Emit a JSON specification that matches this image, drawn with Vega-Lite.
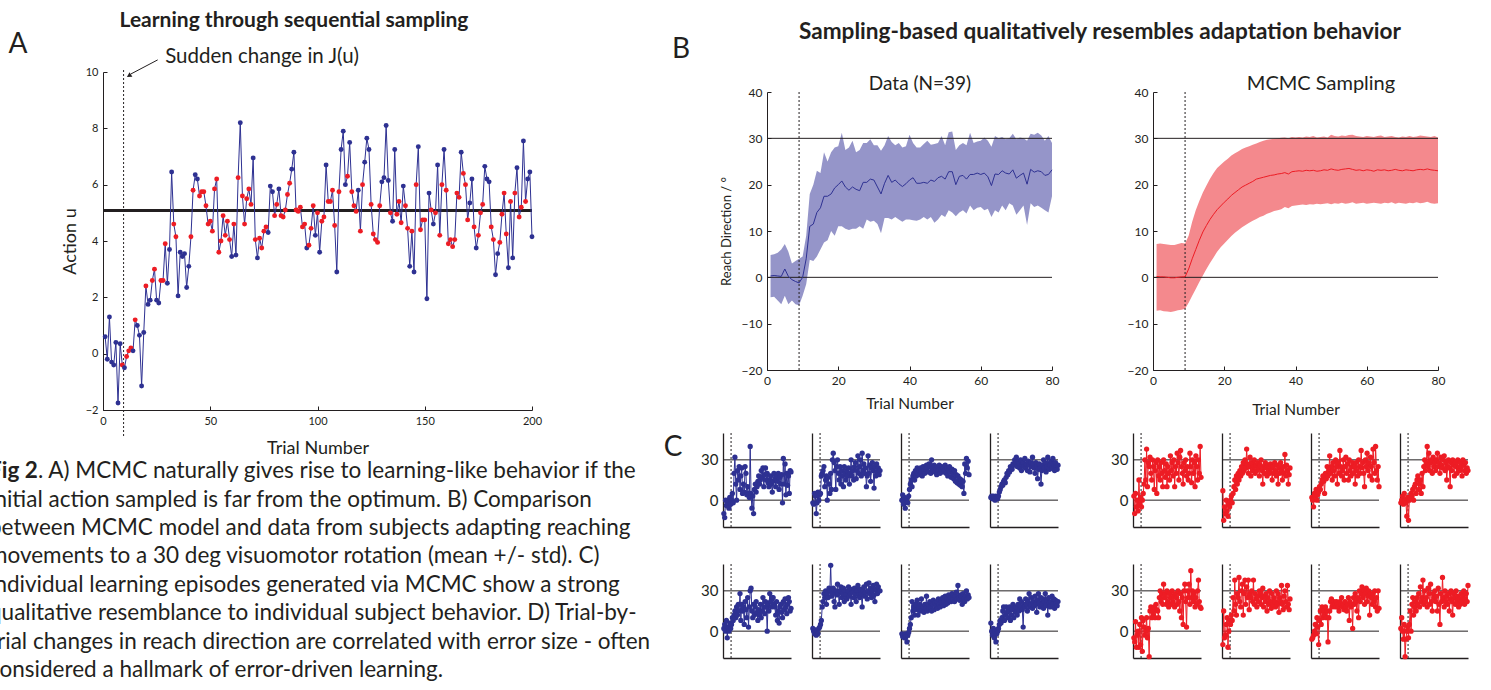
{
"$schema": "https://vega.github.io/schema/vega-lite/v6.json",
"background": "white",
"padding": 0,
"config": {
  "font": "Lato",
  "view": {"stroke": null},
  "axis": {"grid": false, "domainColor": "#231f20", "tickColor": "#231f20", "labelColor": "#231f20", "titleColor": "#231f20", "titleFontWeight": "normal", "domainWidth": 1, "tickWidth": 1, "labelFlush": false, "labelOverlap": false}
},
"datasets": {
"adata": [
{"t":1,"u":0.6,"c":"b"},{"t":2,"u":-0.2,"c":"b"},{"t":3,"u":1.3,"c":"b"},{"t":4,"u":-0.3,"c":"b"},{"t":5,"u":-0.4,"c":"b"},{"t":6,"u":0.4,"c":"b"},{"t":7,"u":-1.75,"c":"b"},{"t":8,"u":0.35,"c":"b"},{"t":9,"u":-0.4,"c":"r"},{"t":10,"u":-0.5,"c":"b"},
{"t":11,"u":-0.1,"c":"r"},{"t":12,"u":0.1,"c":"r"},{"t":13,"u":0.2,"c":"r"},{"t":14,"u":0.1,"c":"b"},{"t":15,"u":1.2,"c":"r"},{"t":16,"u":1.0,"c":"b"},{"t":17,"u":0.65,"c":"b"},{"t":18,"u":-1.15,"c":"b"},{"t":19,"u":0.75,"c":"b"},{"t":20,"u":2.4,"c":"r"},
{"t":21,"u":1.75,"c":"b"},{"t":22,"u":1.9,"c":"b"},{"t":23,"u":2.6,"c":"r"},{"t":24,"u":3.0,"c":"r"},{"t":25,"u":1.9,"c":"b"},{"t":26,"u":1.8,"c":"b"},{"t":27,"u":2.6,"c":"r"},{"t":28,"u":2.6,"c":"r"},{"t":29,"u":3.9,"c":"r"},{"t":30,"u":2.5,"c":"b"},
{"t":31,"u":3.7,"c":"b"},{"t":32,"u":6.45,"c":"b"},{"t":33,"u":4.6,"c":"r"},{"t":34,"u":4.15,"c":"r"},{"t":35,"u":2.05,"c":"b"},{"t":36,"u":3.6,"c":"b"},{"t":37,"u":3.45,"c":"b"},{"t":38,"u":3.55,"c":"b"},{"t":39,"u":2.35,"c":"b"},{"t":40,"u":3.1,"c":"b"},
{"t":41,"u":4.15,"c":"r"},{"t":42,"u":5.8,"c":"r"},{"t":43,"u":6.35,"c":"b"},{"t":44,"u":6.2,"c":"b"},{"t":45,"u":5.6,"c":"r"},{"t":46,"u":5.75,"c":"r"},{"t":47,"u":5.75,"c":"r"},{"t":48,"u":5.25,"c":"r"},{"t":49,"u":4.6,"c":"r"},{"t":50,"u":4.7,"c":"r"},
{"t":51,"u":4.35,"c":"r"},{"t":52,"u":5.85,"c":"r"},{"t":53,"u":6.2,"c":"r"},{"t":54,"u":3.6,"c":"r"},{"t":55,"u":4.0,"c":"r"},{"t":56,"u":4.9,"c":"r"},{"t":57,"u":4.2,"c":"r"},{"t":58,"u":4.7,"c":"r"},{"t":59,"u":4.05,"c":"r"},{"t":60,"u":3.45,"c":"b"},
{"t":61,"u":4.6,"c":"r"},{"t":62,"u":3.5,"c":"b"},{"t":63,"u":6.25,"c":"r"},{"t":64,"u":8.2,"c":"b"},{"t":65,"u":5.6,"c":"r"},{"t":66,"u":4.6,"c":"r"},{"t":67,"u":5.5,"c":"r"},{"t":68,"u":5.85,"c":"r"},{"t":69,"u":5.3,"c":"r"},{"t":70,"u":6.95,"c":"b"},
{"t":71,"u":4.05,"c":"r"},{"t":72,"u":3.4,"c":"b"},{"t":73,"u":4.1,"c":"r"},{"t":74,"u":3.75,"c":"r"},{"t":75,"u":4.35,"c":"r"},{"t":76,"u":4.5,"c":"r"},{"t":77,"u":4.3,"c":"b"},{"t":78,"u":5.95,"c":"b"},{"t":79,"u":5.75,"c":"b"},{"t":80,"u":4.9,"c":"r"},
{"t":81,"u":5.3,"c":"r"},{"t":82,"u":5.85,"c":"b"},{"t":83,"u":4.9,"c":"r"},{"t":84,"u":4.85,"c":"r"},{"t":85,"u":5.1,"c":"r"},{"t":86,"u":5.65,"c":"r"},{"t":87,"u":6.05,"c":"r"},{"t":88,"u":6.55,"c":"b"},{"t":89,"u":7.15,"c":"b"},{"t":90,"u":5.1,"c":"r"},
{"t":91,"u":5.05,"c":"r"},{"t":92,"u":5.2,"c":"r"},{"t":93,"u":4.5,"c":"r"},{"t":94,"u":4.6,"c":"r"},{"t":95,"u":3.75,"c":"b"},{"t":96,"u":3.85,"c":"r"},{"t":97,"u":4.45,"c":"r"},{"t":98,"u":5.25,"c":"r"},{"t":99,"u":4.2,"c":"b"},{"t":100,"u":5.0,"c":"r"},
{"t":101,"u":3.6,"c":"b"},{"t":102,"u":4.7,"c":"r"},{"t":103,"u":4.85,"c":"r"},{"t":104,"u":6.7,"c":"b"},{"t":105,"u":5.4,"c":"r"},{"t":106,"u":5.4,"c":"r"},{"t":107,"u":5.8,"c":"r"},{"t":108,"u":4.55,"c":"r"},{"t":109,"u":2.9,"c":"b"},{"t":110,"u":5.75,"c":"r"},
{"t":111,"u":7.25,"c":"b"},{"t":112,"u":7.9,"c":"b"},{"t":113,"u":6.0,"c":"b"},{"t":114,"u":6.3,"c":"r"},{"t":115,"u":7.5,"c":"b"},{"t":116,"u":5.75,"c":"r"},{"t":117,"u":5.25,"c":"r"},{"t":118,"u":5.05,"c":"r"},{"t":119,"u":5.8,"c":"b"},{"t":120,"u":4.35,"c":"r"},
{"t":121,"u":6.0,"c":"r"},{"t":122,"u":6.8,"c":"b"},{"t":123,"u":7.65,"c":"b"},{"t":124,"u":7.25,"c":"b"},{"t":125,"u":5.3,"c":"r"},{"t":126,"u":4.25,"c":"r"},{"t":127,"u":4.05,"c":"r"},{"t":128,"u":3.95,"c":"r"},{"t":129,"u":5.25,"c":"r"},{"t":130,"u":6.1,"c":"b"},
{"t":131,"u":6.25,"c":"b"},{"t":132,"u":8.1,"c":"b"},{"t":133,"u":6.15,"c":"b"},{"t":134,"u":5.0,"c":"r"},{"t":135,"u":4.7,"c":"b"},{"t":136,"u":7.25,"c":"b"},{"t":137,"u":4.95,"c":"r"},{"t":138,"u":5.4,"c":"r"},{"t":139,"u":4.65,"c":"r"},{"t":140,"u":5.95,"c":"b"},
{"t":141,"u":5.25,"c":"r"},{"t":142,"u":4.45,"c":"r"},{"t":143,"u":3.1,"c":"b"},{"t":144,"u":4.35,"c":"r"},{"t":145,"u":2.9,"c":"b"},{"t":146,"u":6.0,"c":"r"},{"t":147,"u":7.35,"c":"b"},{"t":148,"u":4.4,"c":"r"},{"t":149,"u":4.75,"c":"r"},{"t":150,"u":4.75,"c":"r"},
{"t":151,"u":1.95,"c":"b"},{"t":152,"u":5.7,"c":"b"},{"t":153,"u":5.1,"c":"r"},{"t":154,"u":4.6,"c":"b"},{"t":155,"u":5.0,"c":"r"},{"t":156,"u":6.7,"c":"b"},{"t":157,"u":4.2,"c":"r"},{"t":158,"u":6.0,"c":"r"},{"t":159,"u":7.25,"c":"b"},{"t":160,"u":5.8,"c":"r"},
{"t":161,"u":3.9,"c":"r"},{"t":162,"u":4.05,"c":"r"},{"t":163,"u":3.8,"c":"r"},{"t":164,"u":4.05,"c":"r"},{"t":165,"u":5.7,"c":"r"},{"t":166,"u":5.55,"c":"r"},{"t":167,"u":7.15,"c":"b"},{"t":168,"u":6.4,"c":"r"},{"t":169,"u":6.0,"c":"r"},{"t":170,"u":4.75,"c":"r"},
{"t":171,"u":5.35,"c":"b"},{"t":172,"u":6.2,"c":"b"},{"t":173,"u":4.5,"c":"r"},{"t":174,"u":3.75,"c":"b"},{"t":175,"u":4.2,"c":"r"},{"t":176,"u":5.0,"c":"r"},{"t":177,"u":5.3,"c":"r"},{"t":178,"u":6.65,"c":"b"},{"t":179,"u":6.2,"c":"b"},{"t":180,"u":6.1,"c":"b"},
{"t":181,"u":4.5,"c":"r"},{"t":182,"u":4.05,"c":"r"},{"t":183,"u":2.8,"c":"b"},{"t":184,"u":3.55,"c":"b"},{"t":185,"u":3.95,"c":"r"},{"t":186,"u":4.95,"c":"r"},{"t":187,"u":5.7,"c":"r"},{"t":188,"u":4.25,"c":"r"},{"t":189,"u":3.05,"c":"b"},{"t":190,"u":5.4,"c":"r"},
{"t":191,"u":3.4,"c":"b"},{"t":192,"u":5.7,"c":"r"},{"t":193,"u":6.6,"c":"b"},{"t":194,"u":4.85,"c":"r"},{"t":195,"u":5.2,"c":"r"},{"t":196,"u":7.55,"c":"b"},{"t":197,"u":5.4,"c":"r"},{"t":198,"u":6.2,"c":"b"},{"t":199,"u":6.45,"c":"b"},{"t":200,"u":4.15,"c":"b"}
],
"bdata": [
{"t":1,"dm":0.3,"dlo":-4.3,"dhi":4.8,"mm":0.2,"mlo":-7.2,"mhi":7.2},
{"t":2,"dm":0.4,"dlo":-4.2,"dhi":5.0,"mm":0.1,"mlo":-7.1,"mhi":7.3},
{"t":3,"dm":0.3,"dlo":-5.0,"dhi":5.3,"mm":0.1,"mlo":-7.3,"mhi":7.2},
{"t":4,"dm":0.2,"dlo":-5.8,"dhi":6.0,"mm":0.0,"mlo":-7.4,"mhi":7.1},
{"t":5,"dm":1.8,"dlo":-4.0,"dhi":7.2,"mm":-0.1,"mlo":-7.5,"mhi":7.0},
{"t":6,"dm":0.2,"dlo":-5.8,"dhi":5.5,"mm":-0.1,"mlo":-7.3,"mhi":7.0},
{"t":7,"dm":-0.5,"dlo":-5.0,"dhi":3.0,"mm":0.0,"mlo":-7.1,"mhi":7.2},
{"t":8,"dm":-0.9,"dlo":-5.8,"dhi":3.5,"mm":0.1,"mlo":-7.0,"mhi":7.4},
{"t":9,"dm":-1.2,"dlo":-6.0,"dhi":4.0,"mm":0.1,"mlo":-6.8,"mhi":7.3},
{"t":10,"dm":0.0,"dlo":-4.0,"dhi":4.5,"mm":1.8,"mlo":-5.5,"mhi":9.0},
{"t":11,"dm":4.0,"dlo":-1.5,"dhi":9.0,"mm":4.0,"mlo":-4.0,"mhi":12.0},
{"t":12,"dm":11.0,"dlo":3.8,"dhi":18.0,"mm":6.0,"mlo":-2.5,"mhi":14.5},
{"t":13,"dm":11.5,"dlo":3.5,"dhi":20.0,"mm":8.0,"mlo":-1.0,"mhi":16.5},
{"t":14,"dm":14.0,"dlo":4.5,"dhi":23.0,"mm":9.8,"mlo":0.4,"mhi":18.3},
{"t":15,"dm":15.0,"dlo":6.0,"dhi":22.5,"mm":11.2,"mlo":1.8,"mhi":19.8},
{"t":16,"dm":17.5,"dlo":7.5,"dhi":27.0,"mm":12.5,"mlo":3.1,"mhi":21.3},
{"t":17,"dm":17.5,"dlo":8.0,"dhi":25.0,"mm":13.6,"mlo":4.3,"mhi":22.5},
{"t":18,"dm":18.0,"dlo":10.0,"dhi":27.0,"mm":14.6,"mlo":5.5,"mhi":23.6},
{"t":19,"dm":19.3,"dlo":9.0,"dhi":28.0,"mm":15.4,"mlo":6.5,"mhi":24.3},
{"t":20,"dm":20.0,"dlo":11.0,"dhi":28.3,"mm":16.2,"mlo":7.3,"mhi":25.0},
{"t":21,"dm":20.8,"dlo":11.0,"dhi":31.2,"mm":16.9,"mlo":8.1,"mhi":25.6},
{"t":22,"dm":19.5,"dlo":10.5,"dhi":27.5,"mm":17.7,"mlo":8.9,"mhi":26.3},
{"t":23,"dm":18.8,"dlo":10.2,"dhi":28.0,"mm":18.3,"mlo":9.6,"mhi":26.8},
{"t":24,"dm":19.5,"dlo":10.5,"dhi":29.5,"mm":18.9,"mlo":10.2,"mhi":27.2},
{"t":25,"dm":19.0,"dlo":10.5,"dhi":27.0,"mm":19.5,"mlo":10.8,"mhi":27.7},
{"t":26,"dm":18.7,"dlo":11.0,"dhi":27.5,"mm":19.9,"mlo":11.3,"mhi":28.0},
{"t":27,"dm":20.5,"dlo":10.5,"dhi":29.0,"mm":20.3,"mlo":11.8,"mhi":28.3},
{"t":28,"dm":20.5,"dlo":12.5,"dhi":29.0,"mm":20.7,"mlo":12.2,"mhi":28.6},
{"t":29,"dm":21.2,"dlo":12.0,"dhi":29.8,"mm":21.2,"mlo":12.6,"mhi":28.9},
{"t":30,"dm":21.0,"dlo":12.2,"dhi":28.5,"mm":21.4,"mlo":13.0,"mhi":29.2},
{"t":31,"dm":19.5,"dlo":11.5,"dhi":28.5,"mm":21.6,"mlo":13.3,"mhi":29.5},
{"t":32,"dm":18.0,"dlo":9.5,"dhi":27.3,"mm":21.8,"mlo":13.7,"mhi":29.7},
{"t":33,"dm":20.3,"dlo":12.8,"dhi":28.5,"mm":22.0,"mlo":14.0,"mhi":29.8},
{"t":34,"dm":22.0,"dlo":12.8,"dhi":30.5,"mm":22.1,"mlo":14.3,"mhi":29.9},
{"t":35,"dm":20.5,"dlo":12.5,"dhi":29.2,"mm":22.3,"mlo":14.5,"mhi":30.0},
{"t":36,"dm":21.0,"dlo":13.0,"dhi":28.5,"mm":22.4,"mlo":14.7,"mhi":30.1},
{"t":37,"dm":20.2,"dlo":12.5,"dhi":29.0,"mm":22.6,"mlo":15.2,"mhi":30.2},
{"t":38,"dm":19.6,"dlo":12.0,"dhi":28.0,"mm":22.3,"mlo":14.9,"mhi":30.0},
{"t":39,"dm":20.2,"dlo":12.5,"dhi":28.3,"mm":22.8,"mlo":15.4,"mhi":30.3},
{"t":40,"dm":21.0,"dlo":12.5,"dhi":30.8,"mm":22.9,"mlo":15.5,"mhi":30.2},
{"t":41,"dm":21.5,"dlo":12.3,"dhi":29.0,"mm":23.0,"mlo":15.6,"mhi":30.3},
{"t":42,"dm":20.3,"dlo":12.2,"dhi":28.0,"mm":22.9,"mlo":15.7,"mhi":30.2},
{"t":43,"dm":20.3,"dlo":12.5,"dhi":28.0,"mm":23.1,"mlo":15.6,"mhi":30.4},
{"t":44,"dm":20.5,"dlo":13.0,"dhi":28.8,"mm":23.0,"mlo":15.8,"mhi":30.3},
{"t":45,"dm":20.3,"dlo":12.5,"dhi":29.5,"mm":23.1,"mlo":15.7,"mhi":30.5},
{"t":46,"dm":21.0,"dlo":13.0,"dhi":28.6,"mm":22.9,"mlo":15.9,"mhi":30.2},
{"t":47,"dm":20.7,"dlo":11.8,"dhi":28.8,"mm":23.0,"mlo":15.8,"mhi":30.3},
{"t":48,"dm":21.5,"dlo":12.5,"dhi":29.0,"mm":23.2,"mlo":15.9,"mhi":30.4},
{"t":49,"dm":21.8,"dlo":13.5,"dhi":30.5,"mm":23.1,"mlo":16.0,"mhi":30.2},
{"t":50,"dm":21.2,"dlo":13.0,"dhi":28.5,"mm":23.4,"mlo":15.8,"mhi":30.8},
{"t":51,"dm":22.8,"dlo":14.5,"dhi":31.3,"mm":23.2,"mlo":16.0,"mhi":30.5},
{"t":52,"dm":22.8,"dlo":14.0,"dhi":31.5,"mm":23.1,"mlo":15.9,"mhi":30.4},
{"t":53,"dm":20.0,"dlo":13.2,"dhi":27.5,"mm":23.3,"mlo":16.1,"mhi":30.6},
{"t":54,"dm":21.8,"dlo":14.0,"dhi":28.5,"mm":23.4,"mlo":15.9,"mhi":30.5},
{"t":55,"dm":22.0,"dlo":14.5,"dhi":29.0,"mm":23.5,"mlo":16.0,"mhi":30.7},
{"t":56,"dm":21.2,"dlo":13.8,"dhi":28.5,"mm":23.3,"mlo":16.2,"mhi":30.8},
{"t":57,"dm":22.2,"dlo":15.5,"dhi":31.2,"mm":23.1,"mlo":15.9,"mhi":30.5},
{"t":58,"dm":22.2,"dlo":14.5,"dhi":29.0,"mm":23.2,"mlo":16.0,"mhi":30.4},
{"t":59,"dm":22.5,"dlo":15.0,"dhi":29.3,"mm":23.0,"mlo":16.1,"mhi":30.3},
{"t":60,"dm":22.2,"dlo":15.2,"dhi":29.5,"mm":23.2,"mlo":15.9,"mhi":30.5},
{"t":61,"dm":22.5,"dlo":14.5,"dhi":30.2,"mm":23.1,"mlo":16.0,"mhi":30.4},
{"t":62,"dm":21.7,"dlo":14.8,"dhi":29.5,"mm":22.9,"mlo":16.1,"mhi":30.3},
{"t":63,"dm":19.8,"dlo":13.0,"dhi":28.2,"mm":23.2,"mlo":16.0,"mhi":30.5},
{"t":64,"dm":22.3,"dlo":14.5,"dhi":30.5,"mm":23.1,"mlo":15.9,"mhi":30.6},
{"t":65,"dm":22.2,"dlo":14.0,"dhi":30.0,"mm":23.2,"mlo":16.1,"mhi":30.3},
{"t":66,"dm":23.0,"dlo":15.5,"dhi":30.3,"mm":23.0,"mlo":16.0,"mhi":30.4},
{"t":67,"dm":22.5,"dlo":14.5,"dhi":29.8,"mm":23.1,"mlo":16.2,"mhi":30.5},
{"t":68,"dm":22.3,"dlo":16.0,"dhi":30.0,"mm":23.3,"mlo":15.9,"mhi":30.3},
{"t":69,"dm":23.2,"dlo":15.5,"dhi":31.0,"mm":23.1,"mlo":16.1,"mhi":30.2},
{"t":70,"dm":21.4,"dlo":13.5,"dhi":29.8,"mm":23.0,"mlo":16.0,"mhi":30.4},
{"t":71,"dm":22.0,"dlo":14.5,"dhi":30.2,"mm":23.2,"mlo":15.9,"mhi":30.3},
{"t":72,"dm":22.5,"dlo":15.5,"dhi":30.0,"mm":23.1,"mlo":16.1,"mhi":30.5},
{"t":73,"dm":20.1,"dlo":11.3,"dhi":29.5,"mm":23.0,"mlo":16.0,"mhi":30.3},
{"t":74,"dm":23.3,"dlo":16.0,"dhi":31.0,"mm":23.2,"mlo":16.2,"mhi":30.4},
{"t":75,"dm":22.7,"dlo":15.2,"dhi":30.8,"mm":23.3,"mlo":16.0,"mhi":30.6},
{"t":76,"dm":23.0,"dlo":15.5,"dhi":31.2,"mm":23.2,"mlo":16.1,"mhi":30.5},
{"t":77,"dm":22.8,"dlo":15.0,"dhi":30.6,"mm":23.4,"mlo":16.3,"mhi":30.4},
{"t":78,"dm":22.0,"dlo":14.5,"dhi":29.5,"mm":23.2,"mlo":16.0,"mhi":30.3},
{"t":79,"dm":22.2,"dlo":14.0,"dhi":30.5,"mm":23.1,"mlo":15.9,"mhi":30.5},
{"t":80,"dm":23.2,"dlo":17.5,"dhi":29.0,"mm":23.0,"mlo":16.0,"mhi":30.2}
],
"cdata": [
{"t":1,"b1":-10,"b2":-2,"b3":0,"b4":2,"b5":2,"b6":2,"b7":-2,"b8":6,"r1":3,"r2":7,"r3":2,"r4":-2,"r5":-5,"r6":-10,"r7":-6,"r8":2},
{"t":2,"b1":-13,"b2":-3,"b3":4,"b4":3,"b5":5,"b6":0,"b7":-4,"b8":0,"r1":-10,"r2":-15,"r3":0,"r4":0,"r5":-8,"r6":15,"r7":-5,"r8":10},
{"t":3,"b1":0,"b2":5,"b3":-3,"b4":1,"b5":0,"b6":-2,"b7":-3,"b8":-3,"r1":5,"r2":-5,"r3":-5,"r4":3,"r5":7,"r6":-5,"r7":-3,"r8":0},
{"t":4,"b1":-4,"b2":3,"b3":2,"b4":3,"b5":8,"b6":1,"b7":-5,"b8":2,"r1":-5,"r2":-10,"r3":5,"r4":-3,"r5":-12,"r6":-3,"r7":0,"r8":-6},
{"t":5,"b1":-2,"b2":-10,"b3":-6,"b4":2,"b5":-5,"b6":-3,"b7":-2,"b8":-5,"r1":0,"r2":0,"r3":3,"r4":5,"r5":-3,"r6":5,"r7":5,"r8":5},
{"t":6,"b1":0,"b2":-2,"b3":0,"b4":0,"b5":3,"b6":0,"b7":-4,"b8":0,"r1":-8,"r2":-8,"r3":8,"r4":0,"r5":0,"r6":10,"r7":-2,"r8":-19},
{"t":7,"b1":-6,"b2":6,"b3":1,"b4":3,"b5":0,"b6":-2,"b7":-8,"b8":-8,"r1":15,"r2":-12,"r3":0,"r4":-2,"r5":-12,"r6":-12,"r7":10,"r8":-6},
{"t":8,"b1":2,"b2":0,"b3":-2,"b4":2,"b5":6,"b6":2,"b7":-3,"b8":-2,"r1":-3,"r2":-3,"r3":4,"r4":-12,"r5":5,"r6":0,"r7":3,"r8":0},
{"t":9,"b1":-3,"b2":4,"b3":3,"b4":1,"b5":2,"b6":3,"b7":-1,"b8":0,"r1":2,"r2":-5,"r3":6,"r4":2,"r5":-10,"r6":8,"r7":-10,"r8":3},
{"t":10,"b1":0,"b2":5,"b3":8,"b4":3,"b5":5,"b6":5,"b7":2,"b8":2,"r1":-5,"r2":0,"r3":10,"r4":-15,"r5":10,"r6":5,"r7":8,"r8":-5},
{"t":11,"b1":5,"b2":18,"b3":12,"b4":6,"b5":10,"b6":8,"b7":5,"b8":5,"r1":0,"r2":3,"r3":8,"r4":0,"r5":-15,"r6":12,"r7":15,"r8":5},
{"t":12,"b1":-2,"b2":20,"b3":15,"b4":8,"b5":8,"b6":18,"b7":10,"b8":8,"r1":5,"r2":-2,"r3":12,"r4":2,"r5":8,"r6":8,"r7":5,"r8":15},
{"t":13,"b1":20,"b2":22,"b3":10,"b4":10,"b5":12,"b6":22,"b7":22,"b8":6,"r1":12,"r2":5,"r3":15,"r4":5,"r5":3,"r6":25,"r7":18,"r8":0},
{"t":14,"b1":32,"b2":25,"b3":18,"b4":12,"b5":15,"b6":28,"b7":15,"b8":10,"r1":30,"r2":10,"r3":18,"r4":3,"r5":-3,"r6":15,"r7":10,"r8":20},
{"t":15,"b1":12,"b2":10,"b3":20,"b4":11,"b5":10,"b6":25,"b7":18,"b8":15,"r1":15,"r2":15,"r3":14,"r4":8,"r5":0,"r6":38,"r7":15,"r8":25},
{"t":16,"b1":0,"b2":15,"b3":15,"b4":14,"b5":18,"b6":30,"b7":12,"b8":18,"r1":38,"r2":8,"r3":5,"r4":0,"r5":10,"r6":20,"r7":12,"r8":12},
{"t":17,"b1":22,"b2":18,"b3":22,"b4":15,"b5":12,"b6":20,"b7":20,"b8":8,"r1":10,"r2":18,"r3":20,"r4":10,"r5":-5,"r6":12,"r7":18,"r8":18},
{"t":18,"b1":15,"b2":0,"b3":18,"b4":13,"b5":20,"b6":28,"b7":16,"b8":12,"r1":28,"r2":12,"r3":16,"r4":12,"r5":2,"r6":28,"r7":10,"r8":22},
{"t":19,"b1":25,"b2":17,"b3":24,"b4":17,"b5":15,"b6":25,"b7":23,"b8":18,"r1":25,"r2":20,"r3":25,"r4":5,"r5":-19,"r6":25,"r7":15,"r8":15},
{"t":20,"b1":8,"b2":12,"b3":20,"b4":20,"b5":28,"b6":32,"b7":12,"b8":14,"r1":32,"r2":15,"r3":18,"r4":15,"r5":15,"r6":40,"r7":-8,"r8":25},
{"t":21,"b1":18,"b2":5,"b3":22,"b4":19,"b5":8,"b6":30,"b7":18,"b8":10,"r1":20,"r2":22,"r3":22,"r4":18,"r5":18,"r6":22,"r7":10,"r8":20},
{"t":22,"b1":24,"b2":20,"b3":19,"b4":22,"b5":20,"b6":49,"b7":20,"b8":15,"r1":15,"r2":18,"r3":33,"r4":8,"r5":10,"r6":18,"r7":15,"r8":28},
{"t":23,"b1":5,"b2":8,"b3":24,"b4":21,"b5":15,"b6":26,"b7":15,"b8":18,"r1":30,"r2":25,"r3":20,"r4":12,"r5":15,"r6":30,"r7":22,"r8":18},
{"t":24,"b1":12,"b2":30,"b3":21,"b4":25,"b5":18,"b6":28,"b7":24,"b8":8,"r1":25,"r2":20,"r3":25,"r4":15,"r5":12,"r6":35,"r7":24,"r8":33},
{"t":25,"b1":6,"b2":35,"b3":18,"b4":24,"b5":5,"b6":32,"b7":16,"b8":12,"r1":8,"r2":28,"r3":15,"r4":5,"r5":18,"r6":12,"r7":18,"r8":22},
{"t":26,"b1":25,"b2":28,"b3":25,"b4":23,"b5":22,"b6":22,"b7":18,"b8":16,"r1":22,"r2":22,"r3":28,"r4":20,"r5":10,"r6":28,"r7":20,"r8":25},
{"t":27,"b1":20,"b2":22,"b3":22,"b4":27,"b5":16,"b6":18,"b7":14,"b8":20,"r1":28,"r2":30,"r3":22,"r4":10,"r5":20,"r6":38,"r7":22,"r8":38},
{"t":28,"b1":4,"b2":8,"b3":20,"b4":26,"b5":10,"b6":30,"b7":20,"b8":10,"r1":5,"r2":24,"r3":18,"r4":25,"r5":16,"r6":20,"r7":20,"r8":20},
{"t":29,"b1":10,"b2":25,"b3":23,"b4":30,"b5":25,"b6":27,"b7":17,"b8":17,"r1":30,"r2":38,"r3":30,"r4":30,"r5":15,"r6":33,"r7":18,"r8":30},
{"t":30,"b1":5,"b2":30,"b3":26,"b4":28,"b5":3,"b6":35,"b7":26,"b8":14,"r1":18,"r2":27,"r3":25,"r4":22,"r5":10,"r6":25,"r7":22,"r8":22},
{"t":31,"b1":2,"b2":20,"b3":24,"b4":32,"b5":18,"b6":28,"b7":15,"b8":18,"r1":25,"r2":20,"r3":12,"r4":28,"r5":25,"r6":38,"r7":20,"r8":25},
{"t":32,"b1":40,"b2":15,"b3":21,"b4":25,"b5":30,"b6":20,"b7":20,"b8":12,"r1":15,"r2":25,"r3":28,"r4":40,"r5":30,"r6":16,"r7":18,"r8":18},
{"t":33,"b1":5,"b2":25,"b3":27,"b4":29,"b5":32,"b6":30,"b7":17,"b8":20,"r1":28,"r2":32,"r3":20,"r4":25,"r5":22,"r6":28,"r7":15,"r8":32},
{"t":34,"b1":-6,"b2":12,"b3":25,"b4":27,"b5":15,"b6":33,"b7":22,"b8":15,"r1":20,"r2":18,"r3":37,"r4":35,"r5":28,"r6":25,"r7":22,"r8":28},
{"t":35,"b1":3,"b2":22,"b3":20,"b4":24,"b5":10,"b6":25,"b7":18,"b8":24,"r1":10,"r2":28,"r3":25,"r4":22,"r5":20,"r6":30,"r7":20,"r8":20},
{"t":36,"b1":-10,"b2":18,"b3":30,"b4":30,"b5":20,"b6":28,"b7":15,"b8":18,"r1":30,"r2":22,"r3":18,"r4":28,"r5":35,"r6":22,"r7":25,"r8":35},
{"t":37,"b1":8,"b2":10,"b3":23,"b4":22,"b5":12,"b6":32,"b7":20,"b8":22,"r1":22,"r2":25,"r3":22,"r4":30,"r5":25,"r6":38,"r7":18,"r8":22},
{"t":38,"b1":12,"b2":25,"b3":22,"b4":26,"b5":18,"b6":22,"b7":23,"b8":16,"r1":17,"r2":30,"r3":30,"r4":20,"r5":28,"r6":20,"r7":20,"r8":15},
{"t":39,"b1":6,"b2":20,"b3":26,"b4":28,"b5":22,"b6":30,"b7":16,"b8":3,"r1":27,"r2":20,"r3":15,"r4":32,"r5":20,"r6":28,"r7":16,"r8":28},
{"t":40,"b1":10,"b2":15,"b3":21,"b4":25,"b5":14,"b6":27,"b7":21,"b8":20,"r1":10,"r2":26,"r3":25,"r4":25,"r5":30,"r6":24,"r7":22,"r8":25},
{"t":41,"b1":14,"b2":22,"b3":24,"b4":31,"b5":8,"b6":24,"b7":19,"b8":18,"r1":25,"r2":22,"r3":32,"r4":28,"r5":22,"r6":18,"r7":18,"r8":30},
{"t":42,"b1":18,"b2":18,"b3":19,"b4":24,"b5":16,"b6":30,"b7":22,"b8":24,"r1":20,"r2":28,"r3":20,"r4":22,"r5":18,"r6":26,"r7":15,"r8":22},
{"t":43,"b1":12,"b2":24,"b3":25,"b4":27,"b5":12,"b6":33,"b7":17,"b8":20,"r1":15,"r2":24,"r3":27,"r4":30,"r5":28,"r6":22,"r7":20,"r8":26},
{"t":44,"b1":15,"b2":12,"b3":22,"b4":22,"b5":20,"b6":26,"b7":24,"b8":15,"r1":33,"r2":18,"r3":15,"r4":35,"r5":25,"r6":30,"r7":25,"r8":15},
{"t":45,"b1":22,"b2":20,"b3":26,"b4":29,"b5":10,"b6":28,"b7":20,"b8":22,"r1":22,"r2":26,"r3":30,"r4":25,"r5":20,"r6":28,"r7":8,"r8":32},
{"t":46,"b1":17,"b2":30,"b3":20,"b4":26,"b5":15,"b6":20,"b7":18,"b8":28,"r1":28,"r2":30,"r3":22,"r4":28,"r5":30,"r6":20,"r7":22,"r8":20},
{"t":47,"b1":24,"b2":18,"b3":23,"b4":21,"b5":25,"b6":31,"b7":23,"b8":18,"r1":18,"r2":22,"r3":18,"r4":20,"r5":22,"r6":25,"r7":18,"r8":5},
{"t":48,"b1":10,"b2":22,"b3":25,"b4":28,"b5":18,"b6":29,"b7":21,"b8":20,"r1":30,"r2":12,"r3":25,"r4":32,"r5":26,"r6":32,"r7":20,"r8":28},
{"t":49,"b1":19,"b2":15,"b3":21,"b4":25,"b5":13,"b6":25,"b7":25,"b8":25,"r1":10,"r2":25,"r3":28,"r4":26,"r5":18,"r6":18,"r7":2,"r8":22},
{"t":50,"b1":24,"b2":25,"b3":24,"b4":32,"b5":22,"b6":32,"b7":19,"b8":17,"r1":25,"r2":20,"r3":20,"r4":24,"r5":28,"r6":26,"r7":25,"r8":40},
{"t":51,"b1":15,"b2":28,"b3":22,"b4":27,"b5":18,"b6":28,"b7":22,"b8":22,"r1":20,"r2":28,"r3":25,"r4":30,"r5":25,"r6":22,"r7":20,"r8":25},
{"t":52,"b1":20,"b2":16,"b3":26,"b4":24,"b5":0,"b6":22,"b7":26,"b8":19,"r1":35,"r2":24,"r3":12,"r4":33,"r5":20,"r6":28,"r7":28,"r8":18},
{"t":53,"b1":13,"b2":22,"b3":20,"b4":20,"b5":20,"b6":30,"b7":20,"b8":26,"r1":28,"r2":18,"r3":28,"r4":22,"r5":30,"r6":15,"r7":22,"r8":30},
{"t":54,"b1":10,"b2":33,"b3":24,"b4":28,"b5":15,"b6":34,"b7":24,"b8":20,"r1":15,"r2":26,"r3":22,"r4":28,"r5":22,"r6":25,"r7":15,"r8":22},
{"t":55,"b1":15,"b2":20,"b3":18,"b4":25,"b5":28,"b6":27,"b7":21,"b8":14,"r1":32,"r2":22,"r3":18,"r4":15,"r5":15,"r6":20,"r7":25,"r8":26},
{"t":56,"b1":18,"b2":25,"b3":22,"b4":16,"b5":22,"b6":25,"b7":27,"b8":23,"r1":37,"r2":20,"r3":30,"r4":25,"r5":28,"r6":30,"r7":10,"r8":20},
{"t":57,"b1":12,"b2":30,"b3":25,"b4":23,"b5":18,"b6":31,"b7":23,"b8":28,"r1":25,"r2":27,"r3":25,"r4":30,"r5":10,"r6":22,"r7":30,"r8":28},
{"t":58,"b1":6,"b2":18,"b3":21,"b4":27,"b5":25,"b6":28,"b7":25,"b8":21,"r1":20,"r2":24,"r3":20,"r4":24,"r5":25,"r6":17,"r7":22,"r8":15},
{"t":59,"b1":14,"b2":35,"b3":17,"b4":24,"b5":25,"b6":18,"b7":22,"b8":18,"r1":12,"r2":15,"r3":37,"r4":10,"r5":5,"r6":28,"r7":28,"r8":24},
{"t":60,"b1":20,"b2":22,"b3":23,"b4":12,"b5":20,"b6":30,"b7":28,"b8":25,"r1":28,"r2":25,"r3":24,"r4":28,"r5":30,"r6":20,"r7":33,"r8":30},
{"t":61,"b1":16,"b2":27,"b3":20,"b4":22,"b5":18,"b6":33,"b7":24,"b8":20,"r1":22,"r2":20,"r3":28,"r4":22,"r5":35,"r6":25,"r7":25,"r8":22},
{"t":62,"b1":10,"b2":20,"b3":16,"b4":26,"b5":12,"b6":26,"b7":27,"b8":24,"r1":30,"r2":28,"r3":20,"r4":30,"r5":22,"r6":22,"r7":30,"r8":12},
{"t":63,"b1":18,"b2":24,"b3":22,"b4":30,"b5":22,"b6":29,"b7":22,"b8":17,"r1":18,"r2":22,"r3":10,"r4":26,"r5":3,"r6":18,"r7":20,"r8":28},
{"t":64,"b1":14,"b2":10,"b3":14,"b4":24,"b5":8,"b6":35,"b7":26,"b8":22,"r1":25,"r2":18,"r3":30,"r4":18,"r5":30,"r6":30,"r7":28,"r8":25},
{"t":65,"b1":20,"b2":18,"b3":19,"b4":28,"b5":15,"b6":24,"b7":29,"b8":28,"r1":15,"r2":26,"r3":25,"r4":28,"r5":25,"r6":20,"r7":32,"r8":20},
{"t":66,"b1":8,"b2":33,"b3":13,"b4":21,"b5":6,"b6":30,"b7":24,"b8":19,"r1":20,"r2":12,"r3":35,"r4":25,"r5":35,"r6":28,"r7":22,"r8":30},
{"t":67,"b1":17,"b2":20,"b3":18,"b4":25,"b5":18,"b6":36,"b7":34,"b8":23,"r1":35,"r2":24,"r3":22,"r4":20,"r5":20,"r6":14,"r7":26,"r8":22},
{"t":68,"b1":12,"b2":26,"b3":12,"b4":32,"b5":20,"b6":28,"b7":25,"b8":12,"r1":25,"r2":20,"r3":28,"r4":30,"r5":45,"r6":25,"r7":30,"r8":26},
{"t":69,"b1":19,"b2":14,"b3":16,"b4":27,"b5":14,"b6":32,"b7":23,"b8":25,"r1":13,"r2":28,"r3":18,"r4":24,"r5":25,"r6":22,"r7":12,"r8":18},
{"t":70,"b1":-2,"b2":24,"b3":11,"b4":23,"b5":10,"b6":25,"b7":27,"b8":21,"r1":30,"r2":22,"r3":32,"r4":22,"r5":30,"r6":34,"r7":28,"r8":24},
{"t":71,"b1":31,"b2":28,"b3":15,"b4":26,"b5":22,"b6":30,"b7":26,"b8":18,"r1":20,"r2":15,"r3":25,"r4":28,"r5":22,"r6":20,"r7":25,"r8":20},
{"t":72,"b1":12,"b2":22,"b3":10,"b4":29,"b5":16,"b6":34,"b7":20,"b8":22,"r1":28,"r2":25,"r3":15,"r4":25,"r5":28,"r6":16,"r7":20,"r8":28},
{"t":73,"b1":27,"b2":9,"b3":14,"b4":24,"b5":24,"b6":27,"b7":28,"b8":26,"r1":10,"r2":20,"r3":38,"r4":18,"r5":18,"r6":26,"r7":28,"r8":22},
{"t":74,"b1":4,"b2":25,"b3":5,"b4":31,"b5":18,"b6":22,"b7":24,"b8":20,"r1":33,"r2":34,"r3":28,"r4":30,"r5":25,"r6":30,"r7":22,"r8":26},
{"t":75,"b1":20,"b2":18,"b3":27,"b4":27,"b5":13,"b6":31,"b7":22,"b8":24,"r1":25,"r2":18,"r3":20,"r4":26,"r5":20,"r6":22,"r7":30,"r8":30},
{"t":76,"b1":11,"b2":27,"b3":20,"b4":22,"b5":20,"b6":35,"b7":26,"b8":17,"r1":15,"r2":26,"r3":40,"r4":22,"r5":30,"r6":18,"r7":18,"r8":20},
{"t":77,"b1":18,"b2":21,"b3":31,"b4":28,"b5":25,"b6":28,"b7":30,"b8":23,"r1":30,"r2":22,"r3":22,"r4":28,"r5":38,"r6":34,"r7":25,"r8":24},
{"t":78,"b1":5,"b2":24,"b3":24,"b4":25,"b5":22,"b6":33,"b7":24,"b8":21,"r1":20,"r2":12,"r3":15,"r4":20,"r5":22,"r6":20,"r7":15,"r8":28},
{"t":79,"b1":22,"b2":19,"b3":29,"b4":23,"b5":15,"b6":30,"b7":27,"b8":19,"r1":40,"r2":19,"r3":25,"r4":24,"r5":18,"r6":16,"r7":30,"r8":22},
{"t":80,"b1":21,"b2":22,"b3":19,"b4":26,"b5":17,"b6":30,"b7":25,"b8":22,"r1":17,"r2":24,"r3":10,"r4":22,"r5":17,"r6":24,"r7":17,"r8":34}
]
},
"bounds": "flush",
"spacing": 664,
"hconcat": [
{
 "bounds": "flush", "spacing": 0,
 "vconcat": [
  {"bounds": "flush", "spacing": 0, "hconcat": [
    {"width": 36, "height": 106, "data": {"values": [{"k": 1}]}, "mark": {"type": "text", "fontSize": 28, "align": "center", "baseline": "alphabetic", "color": "#231f20"}, "encoding": {"text": {"value": "A"}}},
    {"width": 516, "height": 54, "data": {"values": [{"k": 1}]}, "mark": {"type": "text", "fontSize": 21, "fontWeight": "bold", "align": "center", "baseline": "alphabetic", "color": "#231f20"}, "encoding": {"text": {"value": "Learning through sequential sampling"}}}
  ]},
  {"bounds": "flush", "spacing": 0, "vconcat": [
    {"width": 1, "height": 72, "data": {"values": [{"k": 1}]}, "mark": {"type": "point", "size": 0, "opacity": 0}, "encoding": {"x": {"value": 0}, "y": {"value": 0}}},
    {"bounds": "flush", "spacing": 67, "hconcat": [
      {"width": 36, "height": 1, "data": {"values": [{"k": 1}]}, "mark": {"type": "point", "size": 0, "opacity": 0}, "encoding": {"x": {"value": 0}, "y": {"value": 0}}},
      {
       "width": 429, "height": 338,
       "layer": [
        {"data": {"values": [{"k": 1}]}, "mark": {"type": "rule", "color": "#231f20", "strokeWidth": 3}, "encoding": {"y": {"datum": 5.08}}},
        {"data": {"values": [{"k": 1}]}, "mark": {"type": "rule", "color": "#231f20", "strokeWidth": 1, "strokeDash": [2, 2]}, "encoding": {"x": {"datum": 9.6}, "y": {"datum": 10.07}, "y2": {"datum": -2.96}}},
        {"data": {"name": "adata"}, "mark": {"type": "line", "color": "#2e3192", "strokeWidth": 1},
         "encoding": {
          "x": {"field": "t", "type": "quantitative", "scale": {"domain": [0, 200], "nice": false, "zero": false}, "axis": {"values": [0, 50, 100, 150, 200], "title": "Trial Number", "titleFontSize": 18, "labelFontSize": 11, "tickSize": -4, "labelPadding": 9, "titlePadding": 13}},
          "y": {"field": "u", "type": "quantitative", "scale": {"domain": [-2, 10], "nice": false, "zero": false}, "axis": {"values": [-2, 0, 2, 4, 6, 8, 10], "title": "Action u", "titleFontSize": 18, "labelFontSize": 11, "tickSize": -4, "labelPadding": 9, "titlePadding": 6}}
         }},
        {"data": {"name": "adata"}, "mark": {"type": "circle", "size": 24, "opacity": 1},
         "encoding": {
          "x": {"field": "t", "type": "quantitative", "scale": {"domain": [0, 200], "nice": false, "zero": false}, "axis": {"values": [0, 50, 100, 150, 200], "title": "Trial Number", "titleFontSize": 18, "labelFontSize": 11, "tickSize": -4, "labelPadding": 9, "titlePadding": 13}},
          "y": {"field": "u", "type": "quantitative", "scale": {"domain": [-2, 10], "nice": false, "zero": false}, "axis": {"values": [-2, 0, 2, 4, 6, 8, 10], "title": "Action u", "titleFontSize": 18, "labelFontSize": 11, "tickSize": -4, "labelPadding": 9, "titlePadding": 6}},
          "color": {"field": "c", "type": "nominal", "scale": {"domain": ["b", "r"], "range": ["#2e3192", "#ed1c24"]}, "legend": null}
         }},
        {"data": {"values": [{"k": 1}]}, "mark": {"type": "text", "align": "left", "baseline": "alphabetic", "fontSize": 20.5, "color": "#231f20"}, "encoding": {"x": {"datum": 29}, "y": {"datum": 10.32}, "text": {"value": "Sudden change in J(u)"}}},
        {"data": {"values": [{"k": 1}]}, "mark": {"type": "rule", "color": "#231f20", "strokeWidth": 1}, "encoding": {"x": {"datum": 25.5}, "x2": {"datum": 13.0}, "y": {"datum": 10.43}, "y2": {"datum": 9.93}}},
        {"data": {"values": [{"k": 1}]}, "mark": {"type": "point", "shape": "triangle", "filled": true, "size": 30, "angle": 238, "color": "#231f20", "opacity": 1}, "encoding": {"x": {"datum": 12.4}, "y": {"datum": 9.88}}}
       ]
      }
    ]}
  ]},
  {"bounds": "flush", "spacing": 0, "vconcat": [
    {"width": 1, "height": 460, "data": {"values": [{"k": 1}]}, "mark": {"type": "point", "size": 0, "opacity": 0}, "encoding": {"x": {"value": 0}, "y": {"value": 0}}},
    {
     "width": 660, "height": 224,
     "data": {"values": [
      {"line": 1, "part": "bold", "txt": "Fig 2"},
      {"line": 1, "part": "rest", "txt": ". A) MCMC naturally gives rise to learning-like behavior if the"},
      {"line": 2, "part": "body", "txt": "initial action sampled is far from the optimum. B) Comparison"},
      {"line": 3, "part": "body", "txt": "between MCMC model and data from subjects adapting reaching"},
      {"line": 4, "part": "body", "txt": "movements to a 30 deg visuomotor rotation  (mean +/- std). C)"},
      {"line": 5, "part": "body", "txt": "individual learning episodes generated via MCMC show a strong"},
      {"line": 6, "part": "body", "txt": "qualitative resemblance to individual subject behavior. D) Trial-by-"},
      {"line": 7, "part": "body", "txt": "trial changes in reach direction are correlated with error size - often"},
      {"line": 8, "part": "body", "txt": "considered a hallmark of error-driven learning."}
     ]},
     "layer": [
      {"transform": [{"filter": {"field": "part", "equal": "body"}}],
       "mark": {"type": "text", "align": "left", "baseline": "alphabetic", "fontSize": 22.5, "dx": -11, "clip": true, "color": "#231f20"},
       "encoding": {"x": {"value": 0}, "y": {"field": "line", "type": "quantitative", "scale": {"domain": [0.35, 8.25], "reverse": true, "nice": false, "zero": false}, "axis": null}, "text": {"field": "txt"}}},
      {"transform": [{"filter": {"field": "part", "equal": "bold"}}],
       "mark": {"type": "text", "align": "left", "baseline": "alphabetic", "fontSize": 22.5, "fontWeight": "bold", "dx": -11, "clip": true, "color": "#231f20"},
       "encoding": {"x": {"value": 0}, "y": {"field": "line", "type": "quantitative", "scale": {"domain": [0.35, 8.25], "reverse": true, "nice": false, "zero": false}, "axis": null}, "text": {"field": "txt"}}},
      {"transform": [{"filter": {"field": "part", "equal": "rest"}}],
       "mark": {"type": "text", "align": "left", "baseline": "alphabetic", "fontSize": 22.5, "dx": 38, "clip": true, "color": "#231f20"},
       "encoding": {"x": {"value": 0}, "y": {"field": "line", "type": "quantitative", "scale": {"domain": [0.35, 8.25], "reverse": true, "nice": false, "zero": false}, "axis": null}, "text": {"field": "txt"}}}
     ]
    }
  ]}
 ]
},
{
 "bounds": "flush", "spacing": 0,
 "vconcat": [
  {"bounds": "flush", "spacing": 20, "hconcat": [
    {"width": 34, "height": 116, "data": {"values": [{"k": 1}]}, "mark": {"type": "text", "fontSize": 28, "align": "center", "baseline": "alphabetic", "color": "#231f20"}, "encoding": {"text": {"value": "B"}}},
    {"width": 764, "height": 78, "data": {"values": [{"k": 1}]}, "mark": {"type": "text", "fontSize": 22.6, "fontWeight": "bold", "align": "center", "baseline": "alphabetic", "color": "#231f20"}, "encoding": {"text": {"value": "Sampling-based qualitatively resembles adaptation behavior"}}}
  ]},
  {"bounds": "flush", "spacing": 0, "hconcat": [
    {"width": 103, "height": 1, "data": {"values": [{"k": 1}]}, "mark": {"type": "point", "size": 0, "opacity": 0}, "encoding": {"x": {"value": 0}, "y": {"value": 0}}},
    {"bounds": "flush", "spacing": 80, "hconcat": [
      {"width": 306, "height": 180, "data": {"values": [{"k": 1}]}, "mark": {"type": "text", "fontSize": 19, "align": "center", "baseline": "alphabetic", "color": "#231f20"}, "encoding": {"text": {"value": "Data (N=39)"}}},
      {"width": 336, "height": 180, "data": {"values": [{"k": 1}]}, "mark": {"type": "text", "fontSize": 20, "align": "center", "baseline": "alphabetic", "color": "#231f20"}, "encoding": {"text": {"value": "MCMC Sampling"}}}
    ]}
  ]},
  {"bounds": "flush", "spacing": 0, "vconcat": [
    {"width": 1, "height": 92, "data": {"values": [{"k": 1}]}, "mark": {"type": "point", "size": 0, "opacity": 0}, "encoding": {"x": {"value": 0}, "y": {"value": 0}}},
    {"bounds": "flush", "spacing": 0, "hconcat": [
      {"width": 103, "height": 1, "data": {"values": [{"k": 1}]}, "mark": {"type": "point", "size": 0, "opacity": 0}, "encoding": {"x": {"value": 0}, "y": {"value": 0}}},
      {"bounds": "flush", "spacing": 101, "hconcat": [
        {
         "width": 285, "height": 278,
         "data": {"name": "bdata"},
         "layer": [
          {"mark": {"type": "area", "color": "#9595c9", "opacity": 1},
           "encoding": {
            "x": {"field": "t", "type": "quantitative", "scale": {"domain": [0, 80], "nice": false, "zero": false}, "axis": {"values": [0, 20, 40, 60, 80], "title": "Trial Number", "titleFontSize": 15.5, "labelFontSize": 12, "tickSize": -4, "labelPadding": 9, "titlePadding": 10}},
            "y": {"field": "dlo", "type": "quantitative", "scale": {"domain": [-20, 40], "nice": false, "zero": false}, "axis": {"values": [-20, -10, 0, 10, 20, 30, 40], "title": "Reach Direction / °", "titleFontSize": 13, "labelFontSize": 12, "tickSize": -4, "labelPadding": 9, "titlePadding": 8}},
            "y2": {"field": "dhi"}
           }},
          {"transform": [{"filter": {"field": "t", "equal": 1}}], "mark": {"type": "rule", "color": "#231f20", "strokeWidth": 1}, "encoding": {"y": {"datum": 0}}},
          {"transform": [{"filter": {"field": "t", "equal": 1}}], "mark": {"type": "rule", "color": "#231f20", "strokeWidth": 1}, "encoding": {"y": {"datum": 30}}},
          {"transform": [{"filter": {"field": "t", "equal": 1}}], "mark": {"type": "rule", "color": "#231f20", "strokeWidth": 1, "strokeDash": [2, 2]}, "encoding": {"x": {"datum": 9}}},
          {"mark": {"type": "line", "color": "#2e3192", "strokeWidth": 1},
           "encoding": {
            "x": {"field": "t", "type": "quantitative", "scale": {"domain": [0, 80], "nice": false, "zero": false}, "axis": {"values": [0, 20, 40, 60, 80], "title": "Trial Number", "titleFontSize": 15.5, "labelFontSize": 12, "tickSize": -4, "labelPadding": 9, "titlePadding": 10}},
            "y": {"field": "dm", "type": "quantitative", "scale": {"domain": [-20, 40], "nice": false, "zero": false}, "axis": {"values": [-20, -10, 0, 10, 20, 30, 40], "title": "Reach Direction / °", "titleFontSize": 13, "labelFontSize": 12, "tickSize": -4, "labelPadding": 9, "titlePadding": 8}}
           }}
         ]
        },
        {
         "width": 285, "height": 278,
         "data": {"name": "bdata"},
         "layer": [
          {"mark": {"type": "area", "color": "#f4898d", "opacity": 1},
           "encoding": {
            "x": {"field": "t", "type": "quantitative", "scale": {"domain": [0, 80], "nice": false, "zero": false}, "axis": {"values": [0, 20, 40, 60, 80], "title": "Trial Number", "titleFontSize": 15.5, "labelFontSize": 12, "tickSize": -4, "labelPadding": 9, "titlePadding": 16}},
            "y": {"field": "mlo", "type": "quantitative", "scale": {"domain": [-20, 40], "nice": false, "zero": false}, "axis": {"values": [-20, -10, 0, 10, 20, 30, 40], "title": null, "labelFontSize": 12, "tickSize": -4, "labelPadding": 9}},
            "y2": {"field": "mhi"}
           }},
          {"transform": [{"filter": {"field": "t", "equal": 1}}], "mark": {"type": "rule", "color": "#231f20", "strokeWidth": 1}, "encoding": {"y": {"datum": 0}}},
          {"transform": [{"filter": {"field": "t", "equal": 1}}], "mark": {"type": "rule", "color": "#231f20", "strokeWidth": 1}, "encoding": {"y": {"datum": 30}}},
          {"transform": [{"filter": {"field": "t", "equal": 1}}], "mark": {"type": "rule", "color": "#231f20", "strokeWidth": 1, "strokeDash": [2, 2]}, "encoding": {"x": {"datum": 9}}},
          {"mark": {"type": "line", "color": "#ed1c24", "strokeWidth": 1},
           "encoding": {
            "x": {"field": "t", "type": "quantitative", "scale": {"domain": [0, 80], "nice": false, "zero": false}, "axis": {"values": [0, 20, 40, 60, 80], "title": "Trial Number", "titleFontSize": 15.5, "labelFontSize": 12, "tickSize": -4, "labelPadding": 9, "titlePadding": 16}},
            "y": {"field": "mm", "type": "quantitative", "scale": {"domain": [-20, 40], "nice": false, "zero": false}, "axis": {"values": [-20, -10, 0, 10, 20, 30, 40], "title": null, "labelFontSize": 12, "tickSize": -4, "labelPadding": 9}}
           }}
         ]
        }
      ]}
    ]}
  ]},
  {"bounds": "flush", "spacing": 0, "vconcat": [
    {"width": 1, "height": 433, "data": {"values": [{"k": 1}]}, "mark": {"type": "point", "size": 0, "opacity": 0}, "encoding": {"x": {"value": 0}, "y": {"value": 0}}},
    {"bounds": "flush", "spacing": 41, "hconcat": [
      {"width": 18, "height": 46, "data": {"values": [{"k": 1}]}, "mark": {"type": "text", "fontSize": 28, "align": "center", "baseline": "alphabetic", "color": "#231f20"}, "encoding": {"text": {"value": "C"}}},
      {"bounds": "flush", "spacing": 131, "vconcat": [
        {"bounds": "flush", "spacing": 410, "hconcat": [
          {"bounds": "flush", "spacing": 21, "hconcat": [
            {"width": 68, "height": 94, "layer": [
              {"data": {"values": [{"k": 1}]}, "mark": {"type": "rule", "color": "#231f20"}, "encoding": {"y": {"datum": 0}}},
              {"data": {"values": [{"k": 1}]}, "mark": {"type": "rule", "color": "#231f20"}, "encoding": {"y": {"datum": 30}}},
              {"data": {"values": [{"k": 1}]}, "mark": {"type": "rule", "color": "#231f20", "strokeDash": [2, 2]}, "encoding": {"x": {"datum": 9.5}}},
              {"data": {"name": "cdata"}, "mark": {"type": "line", "color": "#2e3192", "strokeWidth": 1, "point": {"filled": true, "size": 28, "color": "#2e3192", "opacity": 1}},
               "encoding": {"x": {"field": "t", "type": "quantitative", "scale": {"domain": [0, 80], "nice": false, "zero": false}, "axis": {"ticks": false, "labels": false, "title": null, "domainWidth": 1.3}},
                            "y": {"field": "b1", "type": "quantitative", "scale": {"domain": [-20, 50], "nice": false, "zero": false}, "axis": {"values": [0, 30], "ticks": false, "labels": true, "labelFontSize": 15, "labelPadding": 5, "title": null, "domainWidth": 1.3}}}}
            ]},
            {"width": 68, "height": 94, "layer": [
              {"data": {"values": [{"k": 1}]}, "mark": {"type": "rule", "color": "#231f20"}, "encoding": {"y": {"datum": 0}}},
              {"data": {"values": [{"k": 1}]}, "mark": {"type": "rule", "color": "#231f20"}, "encoding": {"y": {"datum": 30}}},
              {"data": {"values": [{"k": 1}]}, "mark": {"type": "rule", "color": "#231f20", "strokeDash": [2, 2]}, "encoding": {"x": {"datum": 9.5}}},
              {"data": {"name": "cdata"}, "mark": {"type": "line", "color": "#2e3192", "strokeWidth": 1, "point": {"filled": true, "size": 28, "color": "#2e3192", "opacity": 1}},
               "encoding": {"x": {"field": "t", "type": "quantitative", "scale": {"domain": [0, 80], "nice": false, "zero": false}, "axis": {"ticks": false, "labels": false, "title": null, "domainWidth": 1.3}},
                            "y": {"field": "b2", "type": "quantitative", "scale": {"domain": [-20, 50], "nice": false, "zero": false}, "axis": {"values": [0, 30], "ticks": false, "labels": false, "title": null, "domainWidth": 1.3}}}}
            ]},
            {"width": 68, "height": 94, "layer": [
              {"data": {"values": [{"k": 1}]}, "mark": {"type": "rule", "color": "#231f20"}, "encoding": {"y": {"datum": 0}}},
              {"data": {"values": [{"k": 1}]}, "mark": {"type": "rule", "color": "#231f20"}, "encoding": {"y": {"datum": 30}}},
              {"data": {"values": [{"k": 1}]}, "mark": {"type": "rule", "color": "#231f20", "strokeDash": [2, 2]}, "encoding": {"x": {"datum": 9.5}}},
              {"data": {"name": "cdata"}, "mark": {"type": "line", "color": "#2e3192", "strokeWidth": 1, "point": {"filled": true, "size": 28, "color": "#2e3192", "opacity": 1}},
               "encoding": {"x": {"field": "t", "type": "quantitative", "scale": {"domain": [0, 80], "nice": false, "zero": false}, "axis": {"ticks": false, "labels": false, "title": null, "domainWidth": 1.3}},
                            "y": {"field": "b3", "type": "quantitative", "scale": {"domain": [-20, 50], "nice": false, "zero": false}, "axis": {"values": [0, 30], "ticks": false, "labels": false, "title": null, "domainWidth": 1.3}}}}
            ]},
            {"width": 68, "height": 94, "layer": [
              {"data": {"values": [{"k": 1}]}, "mark": {"type": "rule", "color": "#231f20"}, "encoding": {"y": {"datum": 0}}},
              {"data": {"values": [{"k": 1}]}, "mark": {"type": "rule", "color": "#231f20"}, "encoding": {"y": {"datum": 30}}},
              {"data": {"values": [{"k": 1}]}, "mark": {"type": "rule", "color": "#231f20", "strokeDash": [2, 2]}, "encoding": {"x": {"datum": 9.5}}},
              {"data": {"name": "cdata"}, "mark": {"type": "line", "color": "#2e3192", "strokeWidth": 1, "point": {"filled": true, "size": 28, "color": "#2e3192", "opacity": 1}},
               "encoding": {"x": {"field": "t", "type": "quantitative", "scale": {"domain": [0, 80], "nice": false, "zero": false}, "axis": {"ticks": false, "labels": false, "title": null, "domainWidth": 1.3}},
                            "y": {"field": "b4", "type": "quantitative", "scale": {"domain": [-20, 50], "nice": false, "zero": false}, "axis": {"values": [0, 30], "ticks": false, "labels": false, "title": null, "domainWidth": 1.3}}}}
            ]}
          ]},
          {"bounds": "flush", "spacing": 21, "hconcat": [
            {"width": 68, "height": 94, "layer": [
              {"data": {"values": [{"k": 1}]}, "mark": {"type": "rule", "color": "#231f20"}, "encoding": {"y": {"datum": 0}}},
              {"data": {"values": [{"k": 1}]}, "mark": {"type": "rule", "color": "#231f20"}, "encoding": {"y": {"datum": 30}}},
              {"data": {"values": [{"k": 1}]}, "mark": {"type": "rule", "color": "#231f20", "strokeDash": [2, 2]}, "encoding": {"x": {"datum": 9.5}}},
              {"data": {"name": "cdata"}, "mark": {"type": "line", "color": "#ed1c24", "strokeWidth": 1, "point": {"filled": true, "size": 28, "color": "#ed1c24", "opacity": 1}},
               "encoding": {"x": {"field": "t", "type": "quantitative", "scale": {"domain": [0, 80], "nice": false, "zero": false}, "axis": {"ticks": false, "labels": false, "title": null, "domainWidth": 1.3}},
                            "y": {"field": "r1", "type": "quantitative", "scale": {"domain": [-20, 50], "nice": false, "zero": false}, "axis": {"values": [0, 30], "ticks": false, "labels": true, "labelFontSize": 15, "labelPadding": 5, "title": null, "domainWidth": 1.3}}}}
            ]},
            {"width": 68, "height": 94, "layer": [
              {"data": {"values": [{"k": 1}]}, "mark": {"type": "rule", "color": "#231f20"}, "encoding": {"y": {"datum": 0}}},
              {"data": {"values": [{"k": 1}]}, "mark": {"type": "rule", "color": "#231f20"}, "encoding": {"y": {"datum": 30}}},
              {"data": {"values": [{"k": 1}]}, "mark": {"type": "rule", "color": "#231f20", "strokeDash": [2, 2]}, "encoding": {"x": {"datum": 9.5}}},
              {"data": {"name": "cdata"}, "mark": {"type": "line", "color": "#ed1c24", "strokeWidth": 1, "point": {"filled": true, "size": 28, "color": "#ed1c24", "opacity": 1}},
               "encoding": {"x": {"field": "t", "type": "quantitative", "scale": {"domain": [0, 80], "nice": false, "zero": false}, "axis": {"ticks": false, "labels": false, "title": null, "domainWidth": 1.3}},
                            "y": {"field": "r2", "type": "quantitative", "scale": {"domain": [-20, 50], "nice": false, "zero": false}, "axis": {"values": [0, 30], "ticks": false, "labels": false, "title": null, "domainWidth": 1.3}}}}
            ]},
            {"width": 68, "height": 94, "layer": [
              {"data": {"values": [{"k": 1}]}, "mark": {"type": "rule", "color": "#231f20"}, "encoding": {"y": {"datum": 0}}},
              {"data": {"values": [{"k": 1}]}, "mark": {"type": "rule", "color": "#231f20"}, "encoding": {"y": {"datum": 30}}},
              {"data": {"values": [{"k": 1}]}, "mark": {"type": "rule", "color": "#231f20", "strokeDash": [2, 2]}, "encoding": {"x": {"datum": 9.5}}},
              {"data": {"name": "cdata"}, "mark": {"type": "line", "color": "#ed1c24", "strokeWidth": 1, "point": {"filled": true, "size": 28, "color": "#ed1c24", "opacity": 1}},
               "encoding": {"x": {"field": "t", "type": "quantitative", "scale": {"domain": [0, 80], "nice": false, "zero": false}, "axis": {"ticks": false, "labels": false, "title": null, "domainWidth": 1.3}},
                            "y": {"field": "r3", "type": "quantitative", "scale": {"domain": [-20, 50], "nice": false, "zero": false}, "axis": {"values": [0, 30], "ticks": false, "labels": false, "title": null, "domainWidth": 1.3}}}}
            ]},
            {"width": 68, "height": 94, "layer": [
              {"data": {"values": [{"k": 1}]}, "mark": {"type": "rule", "color": "#231f20"}, "encoding": {"y": {"datum": 0}}},
              {"data": {"values": [{"k": 1}]}, "mark": {"type": "rule", "color": "#231f20"}, "encoding": {"y": {"datum": 30}}},
              {"data": {"values": [{"k": 1}]}, "mark": {"type": "rule", "color": "#231f20", "strokeDash": [2, 2]}, "encoding": {"x": {"datum": 9.5}}},
              {"data": {"name": "cdata"}, "mark": {"type": "line", "color": "#ed1c24", "strokeWidth": 1, "point": {"filled": true, "size": 28, "color": "#ed1c24", "opacity": 1}},
               "encoding": {"x": {"field": "t", "type": "quantitative", "scale": {"domain": [0, 80], "nice": false, "zero": false}, "axis": {"ticks": false, "labels": false, "title": null, "domainWidth": 1.3}},
                            "y": {"field": "r4", "type": "quantitative", "scale": {"domain": [-20, 50], "nice": false, "zero": false}, "axis": {"values": [0, 30], "ticks": false, "labels": false, "title": null, "domainWidth": 1.3}}}}
            ]}
          ]}
        ]},
        {"bounds": "flush", "spacing": 410, "hconcat": [
          {"bounds": "flush", "spacing": 21, "hconcat": [
            {"width": 68, "height": 94, "layer": [
              {"data": {"values": [{"k": 1}]}, "mark": {"type": "rule", "color": "#231f20"}, "encoding": {"y": {"datum": 0}}},
              {"data": {"values": [{"k": 1}]}, "mark": {"type": "rule", "color": "#231f20"}, "encoding": {"y": {"datum": 30}}},
              {"data": {"values": [{"k": 1}]}, "mark": {"type": "rule", "color": "#231f20", "strokeDash": [2, 2]}, "encoding": {"x": {"datum": 9.5}}},
              {"data": {"name": "cdata"}, "mark": {"type": "line", "color": "#2e3192", "strokeWidth": 1, "point": {"filled": true, "size": 28, "color": "#2e3192", "opacity": 1}},
               "encoding": {"x": {"field": "t", "type": "quantitative", "scale": {"domain": [0, 80], "nice": false, "zero": false}, "axis": {"ticks": false, "labels": false, "title": null, "domainWidth": 1.3}},
                            "y": {"field": "b5", "type": "quantitative", "scale": {"domain": [-20, 50], "nice": false, "zero": false}, "axis": {"values": [0, 30], "ticks": false, "labels": true, "labelFontSize": 15, "labelPadding": 5, "title": null, "domainWidth": 1.3}}}}
            ]},
            {"width": 68, "height": 94, "layer": [
              {"data": {"values": [{"k": 1}]}, "mark": {"type": "rule", "color": "#231f20"}, "encoding": {"y": {"datum": 0}}},
              {"data": {"values": [{"k": 1}]}, "mark": {"type": "rule", "color": "#231f20"}, "encoding": {"y": {"datum": 30}}},
              {"data": {"values": [{"k": 1}]}, "mark": {"type": "rule", "color": "#231f20", "strokeDash": [2, 2]}, "encoding": {"x": {"datum": 9.5}}},
              {"data": {"name": "cdata"}, "mark": {"type": "line", "color": "#2e3192", "strokeWidth": 1, "point": {"filled": true, "size": 28, "color": "#2e3192", "opacity": 1}},
               "encoding": {"x": {"field": "t", "type": "quantitative", "scale": {"domain": [0, 80], "nice": false, "zero": false}, "axis": {"ticks": false, "labels": false, "title": null, "domainWidth": 1.3}},
                            "y": {"field": "b6", "type": "quantitative", "scale": {"domain": [-20, 50], "nice": false, "zero": false}, "axis": {"values": [0, 30], "ticks": false, "labels": false, "title": null, "domainWidth": 1.3}}}}
            ]},
            {"width": 68, "height": 94, "layer": [
              {"data": {"values": [{"k": 1}]}, "mark": {"type": "rule", "color": "#231f20"}, "encoding": {"y": {"datum": 0}}},
              {"data": {"values": [{"k": 1}]}, "mark": {"type": "rule", "color": "#231f20"}, "encoding": {"y": {"datum": 30}}},
              {"data": {"values": [{"k": 1}]}, "mark": {"type": "rule", "color": "#231f20", "strokeDash": [2, 2]}, "encoding": {"x": {"datum": 9.5}}},
              {"data": {"name": "cdata"}, "mark": {"type": "line", "color": "#2e3192", "strokeWidth": 1, "point": {"filled": true, "size": 28, "color": "#2e3192", "opacity": 1}},
               "encoding": {"x": {"field": "t", "type": "quantitative", "scale": {"domain": [0, 80], "nice": false, "zero": false}, "axis": {"ticks": false, "labels": false, "title": null, "domainWidth": 1.3}},
                            "y": {"field": "b7", "type": "quantitative", "scale": {"domain": [-20, 50], "nice": false, "zero": false}, "axis": {"values": [0, 30], "ticks": false, "labels": false, "title": null, "domainWidth": 1.3}}}}
            ]},
            {"width": 68, "height": 94, "layer": [
              {"data": {"values": [{"k": 1}]}, "mark": {"type": "rule", "color": "#231f20"}, "encoding": {"y": {"datum": 0}}},
              {"data": {"values": [{"k": 1}]}, "mark": {"type": "rule", "color": "#231f20"}, "encoding": {"y": {"datum": 30}}},
              {"data": {"values": [{"k": 1}]}, "mark": {"type": "rule", "color": "#231f20", "strokeDash": [2, 2]}, "encoding": {"x": {"datum": 9.5}}},
              {"data": {"name": "cdata"}, "mark": {"type": "line", "color": "#2e3192", "strokeWidth": 1, "point": {"filled": true, "size": 28, "color": "#2e3192", "opacity": 1}},
               "encoding": {"x": {"field": "t", "type": "quantitative", "scale": {"domain": [0, 80], "nice": false, "zero": false}, "axis": {"ticks": false, "labels": false, "title": null, "domainWidth": 1.3}},
                            "y": {"field": "b8", "type": "quantitative", "scale": {"domain": [-20, 50], "nice": false, "zero": false}, "axis": {"values": [0, 30], "ticks": false, "labels": false, "title": null, "domainWidth": 1.3}}}}
            ]}
          ]},
          {"bounds": "flush", "spacing": 21, "hconcat": [
            {"width": 68, "height": 94, "layer": [
              {"data": {"values": [{"k": 1}]}, "mark": {"type": "rule", "color": "#231f20"}, "encoding": {"y": {"datum": 0}}},
              {"data": {"values": [{"k": 1}]}, "mark": {"type": "rule", "color": "#231f20"}, "encoding": {"y": {"datum": 30}}},
              {"data": {"values": [{"k": 1}]}, "mark": {"type": "rule", "color": "#231f20", "strokeDash": [2, 2]}, "encoding": {"x": {"datum": 9.5}}},
              {"data": {"name": "cdata"}, "mark": {"type": "line", "color": "#ed1c24", "strokeWidth": 1, "point": {"filled": true, "size": 28, "color": "#ed1c24", "opacity": 1}},
               "encoding": {"x": {"field": "t", "type": "quantitative", "scale": {"domain": [0, 80], "nice": false, "zero": false}, "axis": {"ticks": false, "labels": false, "title": null, "domainWidth": 1.3}},
                            "y": {"field": "r5", "type": "quantitative", "scale": {"domain": [-20, 50], "nice": false, "zero": false}, "axis": {"values": [0, 30], "ticks": false, "labels": true, "labelFontSize": 15, "labelPadding": 5, "title": null, "domainWidth": 1.3}}}}
            ]},
            {"width": 68, "height": 94, "layer": [
              {"data": {"values": [{"k": 1}]}, "mark": {"type": "rule", "color": "#231f20"}, "encoding": {"y": {"datum": 0}}},
              {"data": {"values": [{"k": 1}]}, "mark": {"type": "rule", "color": "#231f20"}, "encoding": {"y": {"datum": 30}}},
              {"data": {"values": [{"k": 1}]}, "mark": {"type": "rule", "color": "#231f20", "strokeDash": [2, 2]}, "encoding": {"x": {"datum": 9.5}}},
              {"data": {"name": "cdata"}, "mark": {"type": "line", "color": "#ed1c24", "strokeWidth": 1, "point": {"filled": true, "size": 28, "color": "#ed1c24", "opacity": 1}},
               "encoding": {"x": {"field": "t", "type": "quantitative", "scale": {"domain": [0, 80], "nice": false, "zero": false}, "axis": {"ticks": false, "labels": false, "title": null, "domainWidth": 1.3}},
                            "y": {"field": "r6", "type": "quantitative", "scale": {"domain": [-20, 50], "nice": false, "zero": false}, "axis": {"values": [0, 30], "ticks": false, "labels": false, "title": null, "domainWidth": 1.3}}}}
            ]},
            {"width": 68, "height": 94, "layer": [
              {"data": {"values": [{"k": 1}]}, "mark": {"type": "rule", "color": "#231f20"}, "encoding": {"y": {"datum": 0}}},
              {"data": {"values": [{"k": 1}]}, "mark": {"type": "rule", "color": "#231f20"}, "encoding": {"y": {"datum": 30}}},
              {"data": {"values": [{"k": 1}]}, "mark": {"type": "rule", "color": "#231f20", "strokeDash": [2, 2]}, "encoding": {"x": {"datum": 9.5}}},
              {"data": {"name": "cdata"}, "mark": {"type": "line", "color": "#ed1c24", "strokeWidth": 1, "point": {"filled": true, "size": 28, "color": "#ed1c24", "opacity": 1}},
               "encoding": {"x": {"field": "t", "type": "quantitative", "scale": {"domain": [0, 80], "nice": false, "zero": false}, "axis": {"ticks": false, "labels": false, "title": null, "domainWidth": 1.3}},
                            "y": {"field": "r7", "type": "quantitative", "scale": {"domain": [-20, 50], "nice": false, "zero": false}, "axis": {"values": [0, 30], "ticks": false, "labels": false, "title": null, "domainWidth": 1.3}}}}
            ]},
            {"width": 68, "height": 94, "layer": [
              {"data": {"values": [{"k": 1}]}, "mark": {"type": "rule", "color": "#231f20"}, "encoding": {"y": {"datum": 0}}},
              {"data": {"values": [{"k": 1}]}, "mark": {"type": "rule", "color": "#231f20"}, "encoding": {"y": {"datum": 30}}},
              {"data": {"values": [{"k": 1}]}, "mark": {"type": "rule", "color": "#231f20", "strokeDash": [2, 2]}, "encoding": {"x": {"datum": 9.5}}},
              {"data": {"name": "cdata"}, "mark": {"type": "line", "color": "#ed1c24", "strokeWidth": 1, "point": {"filled": true, "size": 28, "color": "#ed1c24", "opacity": 1}},
               "encoding": {"x": {"field": "t", "type": "quantitative", "scale": {"domain": [0, 80], "nice": false, "zero": false}, "axis": {"ticks": false, "labels": false, "title": null, "domainWidth": 1.3}},
                            "y": {"field": "r8", "type": "quantitative", "scale": {"domain": [-20, 50], "nice": false, "zero": false}, "axis": {"values": [0, 30], "ticks": false, "labels": false, "title": null, "domainWidth": 1.3}}}}
            ]}
          ]}
        ]}
      ]}
    ]}
  ]}
 ]
}
]
}
